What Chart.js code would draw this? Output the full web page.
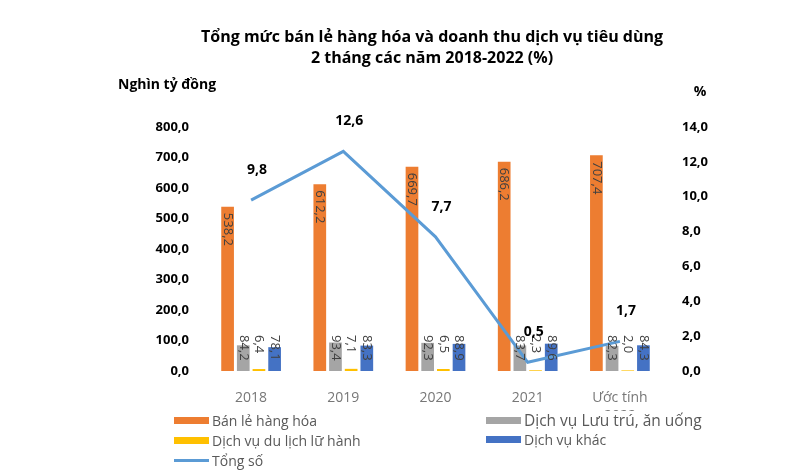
<!DOCTYPE html>
<html lang="vi">
<head>
<meta charset="utf-8">
<title>Tổng mức bán lẻ hàng hóa và doanh thu dịch vụ tiêu dùng</title>
<script src="https://cdn.jsdelivr.net/npm/chart.js@4.4.1/dist/chart.umd.min.js"></script>
<style>
  html, body { margin: 0; padding: 0; background: #fff; }
  #wrap { position: relative; width: 800px; height: 474px; }
  #chart { position: absolute; left: 0; top: 0; }
  .legend { position: absolute; font-family: 'Open Sans', sans-serif; color: #595959; }
  .legend .item { position: absolute; display: flex; align-items: center; white-space: nowrap; height: 20px; }
  .legend .swatch { display: inline-block; width: 35px; margin-right: 3px; }
</style>
</head>
<body>
<div id="wrap">
  <canvas id="chart" width="800" height="474"></canvas>
  <div class="legend" id="legend"></div>
</div>
<script>
// --- Data ---
const years = ['2018', '2019', '2020', '2021', ['Ước tính', '2022']];
const banLe = [538.2, 612.2, 669.7, 686.2, 707.4];
const luuTru = [84.2, 93.4, 92.3, 83.7, 82.3];
const duLich = [6.4, 7.1, 6.5, 2.3, 2.0];
const dichVuKhac = [78.1, 83.3, 88.9, 89.6, 84.3];
const tongSo = [9.8, 12.6, 7.7, 0.5, 1.7];

const titleLines = ['Tổng mức bán lẻ hàng hóa và doanh thu dịch vụ tiêu dùng', '2 tháng các năm 2018-2022 (%)'];

const FONT = "'Open Sans', sans-serif";

// "538.2" -> "538,2"
function fmt(v) {
  return v.toFixed(1).replace('.', ',');
}

// --- Plugin: rotated labels on bars, bold labels above line ---
const valueLabels = {
  id: 'valueLabels',
  afterDatasetsDraw(chart) {
    const ctx = chart.ctx;
    chart.data.datasets.forEach((ds, i) => {
      const meta = chart.getDatasetMeta(i);
      if (meta.hidden) return;
      meta.data.forEach((el, j) => {
        const v = ds.data[j];
        ctx.save();
        if (ds.type === 'line') {
          ctx.font = 'bold 14px ' + FONT;
          ctx.fillStyle = '#000';
          ctx.textAlign = 'center';
          ctx.textBaseline = 'middle';
          ctx.fillText(fmt(v), el.x + 6, el.y - 30);
        } else {
          const startY = Math.min(el.y + 6, el.base - 36);
          ctx.translate(el.x, startY);
          ctx.rotate(Math.PI / 2);
          ctx.font = '13px ' + FONT;
          ctx.fillStyle = '#404040';
          ctx.textAlign = 'left';
          ctx.textBaseline = 'middle';
          ctx.fillText(fmt(v), 0, 0);
        }
        ctx.restore();
      });
    });
  }
};

// --- Plugin: unit captions above both axes ---
const axisUnits = {
  id: 'axisUnits',
  afterDraw(chart) {
    const ctx = chart.ctx;
    ctx.save();
    ctx.font = 'bold 14px ' + FONT;
    ctx.fillStyle = '#000';
    ctx.textBaseline = 'middle';
    ctx.textAlign = 'left';
    ctx.fillText('Nghìn tỷ đồng', 118, 85);
    ctx.textAlign = 'center';
    ctx.fillText('%', 700, 92);
    ctx.restore();
  }
};

const chart = new Chart(document.getElementById('chart'), {
  data: {
    labels: years,
    datasets: [
      { type: 'bar', label: 'Bán lẻ hàng hóa', data: banLe, backgroundColor: '#ED7D31', yAxisID: 'y' },
      { type: 'bar', label: 'Dịch vụ Lưu trú, ăn uống', data: luuTru, backgroundColor: '#A5A5A5', yAxisID: 'y' },
      { type: 'bar', label: 'Dịch vụ du lịch lữ hành', data: duLich, backgroundColor: '#FFC000', yAxisID: 'y' },
      { type: 'bar', label: 'Dịch vụ khác', data: dichVuKhac, backgroundColor: '#4472C4', yAxisID: 'y' },
      {
        type: 'line', label: 'Tổng số', data: tongSo, yAxisID: 'y1',
        borderColor: '#5B9BD5', backgroundColor: '#5B9BD5', borderWidth: 3,
        pointRadius: 0, tension: 0, order: -1
      }
    ]
  },
  options: {
    responsive: false,
    animation: false,
    layout: { padding: { left: 100, right: 36, top: 0, bottom: 63 } },
    datasets: { bar: { categoryPercentage: 0.68, barPercentage: 0.81 } },
    scales: {
      x: {
        grid: { display: false },
        border: { display: false },
        ticks: { color: '#777', font: { family: FONT, size: 14, lineHeight: 1.3 }, padding: 10, maxRotation: 0 },
        afterFit(scale) { scale.height = 40; }
      },
      y: {
        position: 'left',
        min: 0, max: 800,
        grid: { display: false, drawTicks: false },
        border: { display: false },
        ticks: {
          stepSize: 100, padding: 16, color: '#000',
          font: { family: FONT, size: 13, weight: 'bold' },
          callback: v => fmt(v)
        },
        afterFit(scale) { scale.width = 105; }
      },
      y1: {
        position: 'right',
        min: 0, max: 14,
        grid: { display: false, drawTicks: false },
        border: { display: false },
        ticks: {
          stepSize: 2, padding: 16, color: '#000',
          font: { family: FONT, size: 13, weight: 'bold' },
          callback: v => fmt(v)
        },
        afterFit(scale) { scale.width = 98; }
      }
    },
    plugins: {
      legend: { display: false },
      tooltip: { enabled: false },
      title: {
        display: true,
        text: titleLines,
        color: '#000',
        font: { family: FONT, size: 16, weight: 'bold', lineHeight: 1.3 },
        padding: { top: 27, bottom: 58.4 }
      }
    }
  },
  plugins: [valueLabels, axisUnits]
});

// --- Legend: two columns built from the datasets ---
function buildLegend() {
  const box = document.getElementById('legend');
  // [left, top, font size] for each legend slot
  const slots = [[174, 410, 14], [486, 410, 15.5], [174, 430, 14], [486, 429, 14], [174, 450, 14]];
  chart.data.datasets.forEach((ds, i) => {
    const item = document.createElement('div');
    item.className = 'item';
    item.style.left = slots[i][0] + 'px';
    item.style.top = slots[i][1] + 'px';
    item.style.fontSize = slots[i][2] + 'px';
    const sw = document.createElement('span');
    sw.className = 'swatch';
    sw.style.background = ds.type === 'line' ? ds.borderColor : ds.backgroundColor;
    sw.style.height = ds.type === 'line' ? '3px' : '7px';
    const txt = document.createElement('span');
    txt.textContent = ds.label;
    item.appendChild(sw);
    item.appendChild(txt);
    box.appendChild(item);
  });
}
buildLegend();
</script>
</body>
</html>
